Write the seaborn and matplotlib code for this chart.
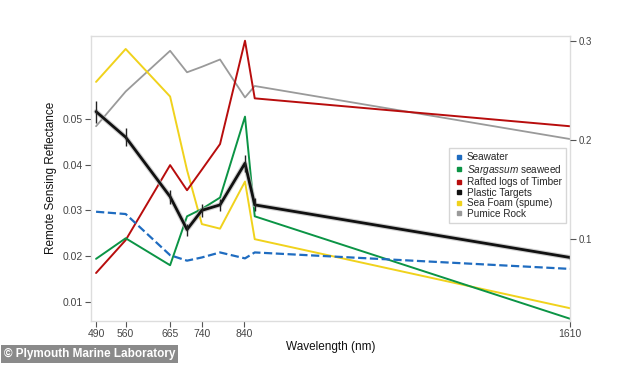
import matplotlib
matplotlib.use("Agg")
import matplotlib.pyplot as plt
from matplotlib.lines import Line2D
import seaborn as sns
import pandas as pd

wavelengths = [490, 560, 665, 705, 740, 783, 842, 865, 1610]
seawater = [0.0297, 0.0292, 0.0202, 0.0190, 0.0197, 0.0208, 0.0195, 0.0208, 0.0172]
sargassum = [0.0194, 0.0239, 0.0180, 0.0287, 0.0303, 0.0328, 0.0505, 0.0287, 0.0063]
timber = [0.0163, 0.0235, 0.0399, 0.0344, 0.0389, 0.0445, 0.0671, 0.0545, 0.0484]
plastic = [0.0516, 0.0460, 0.0330, 0.0258, 0.0300, 0.0312, 0.0403, 0.0312, 0.0197]
plastic_err = [0.0024, 0.0020, 0.0015, 0.0013, 0.0014, 0.0013, 0.0018, 0.0014, 0.0006]
seafoam = [0.0581, 0.0653, 0.0549, 0.0388, 0.0270, 0.0260, 0.0363, 0.0237, 0.0086]
pumice = [0.0484, 0.0560, 0.0649, 0.0602, 0.0614, 0.0630, 0.0547, 0.0572, 0.0456]

series_names = ["Seawater", "Sargassum seaweed", "Rafted logs of Timber",
                "Plastic Targets", "Sea Foam (spume)", "Pumice Rock"]
legend_labels = ["Seawater", r"$\mathit{Sargassum}$ seaweed", "Rafted logs of Timber",
                 "Plastic Targets", "Sea Foam (spume)", "Pumice Rock"]
x_ticks = [490, 560, 665, 740, 840, 1610]
left_ticks = [0.01, 0.02, 0.03, 0.04, 0.05]
right_ticks = [0.1, 0.2, 0.3]

colors = ["#1f6cc0", "#0b9445", "#b80d0d", "#111111", "#f0d21c", "#9a9a9a"]
widths = [1.6, 1.4, 1.4, 2.0, 1.4, 1.3]
styles = ["--", "-", "-", "-", "-", "-"]

sns.set_theme(style="white")
plt.rcParams["font.family"] = ["Liberation Sans", "DejaVu Sans"]
plt.rcParams["mathtext.fontset"] = "custom"
plt.rcParams["mathtext.it"] = "Liberation Sans:italic"
plt.rcParams["mathtext.rm"] = "Liberation Sans"

values = [seawater, sargassum, timber, plastic, seafoam, pumice]
frames = []
for name, vals in zip(series_names, values):
    frames.append(pd.DataFrame({"wl": wavelengths, "rrs": vals, "series": name}))
df = pd.concat(frames, ignore_index=True)

fig = plt.figure(figsize=(6.34, 3.67), dpi=100)
ax = fig.add_axes([0.1435, 0.1253, 0.7555, 0.7774])

# draw order: pumice, seafoam, timber, sargassum, seawater, plastic
order = [5, 4, 2, 1, 0, 3]
for i in order:
    sub = df[df["series"] == series_names[i]]
    if i == 3:
        sns.lineplot(data=sub, x="wl", y="rrs", ax=ax, color="#bbbbbb",
                     linewidth=3.6, alpha=0.7, legend=False)
    sns.lineplot(data=sub, x="wl", y="rrs", ax=ax, color=colors[i],
                 linewidth=widths[i], linestyle=styles[i], legend=False)

ax.errorbar(wavelengths, plastic, yerr=plastic_err, fmt="none",
            ecolor="#222222", elinewidth=1.0, capsize=0)

ax.set_xlim(478, 1610)
ax.set_ylim(0.0058, 0.0682)
ax.set_xticks(x_ticks)
ax.set_xticklabels([str(t) for t in x_ticks])
ax.set_yticks(left_ticks)
ax.set_yticklabels([f"{t:.2f}" for t in left_ticks])
ax.tick_params(axis="both", which="both", direction="out", length=4, width=0.8,
               color="#555555", labelcolor="#444444", labelsize=7.5, pad=2,
               left=True, bottom=True)
ax.set_xlabel("Wavelength (nm)", fontsize=8.5, color="#111111", labelpad=1)
ax.set_ylabel("Remote Sensing Reflectance", fontsize=8.5, color="#111111", labelpad=4)
for sp in ax.spines.values():
    sp.set_color("#dddddd")
    sp.set_linewidth(1.0)

ax2 = ax.twinx()
ax2.set_ylim(0.0177, 0.305)
ax2.set_yticks(right_ticks)
ax2.set_yticklabels(["0.1", "0.2", "0.3"])
ax2.tick_params(axis="y", direction="out", length=4, width=0.8, color="#555555",
                labelcolor="#444444", labelsize=7, pad=2, right=True)
for sp in ax2.spines.values():
    sp.set_visible(False)

handles = [Line2D([], [], marker="s", linestyle="none", markersize=3.5,
                  color=c) for c in colors]
leg = ax.legend(handles, legend_labels, loc="upper right",
                bbox_to_anchor=(0.992, 0.607), fontsize=7.2, frameon=True,
                fancybox=False, edgecolor="#cccccc", handletextpad=0.3,
                handlelength=1.0, labelspacing=0.05, borderpad=0.45,
                borderaxespad=0.0)
leg.get_frame().set_linewidth(1.0)

fig.text(0.006, 0.02, "\u00a9 Plymouth Marine Laboratory", color="white",
         fontsize=8.5, fontweight="bold", ha="left", va="bottom",
         bbox=dict(boxstyle="square,pad=0.25", facecolor="#8a8a8a", edgecolor="none"))

fig.savefig("out.png", dpi=100)
